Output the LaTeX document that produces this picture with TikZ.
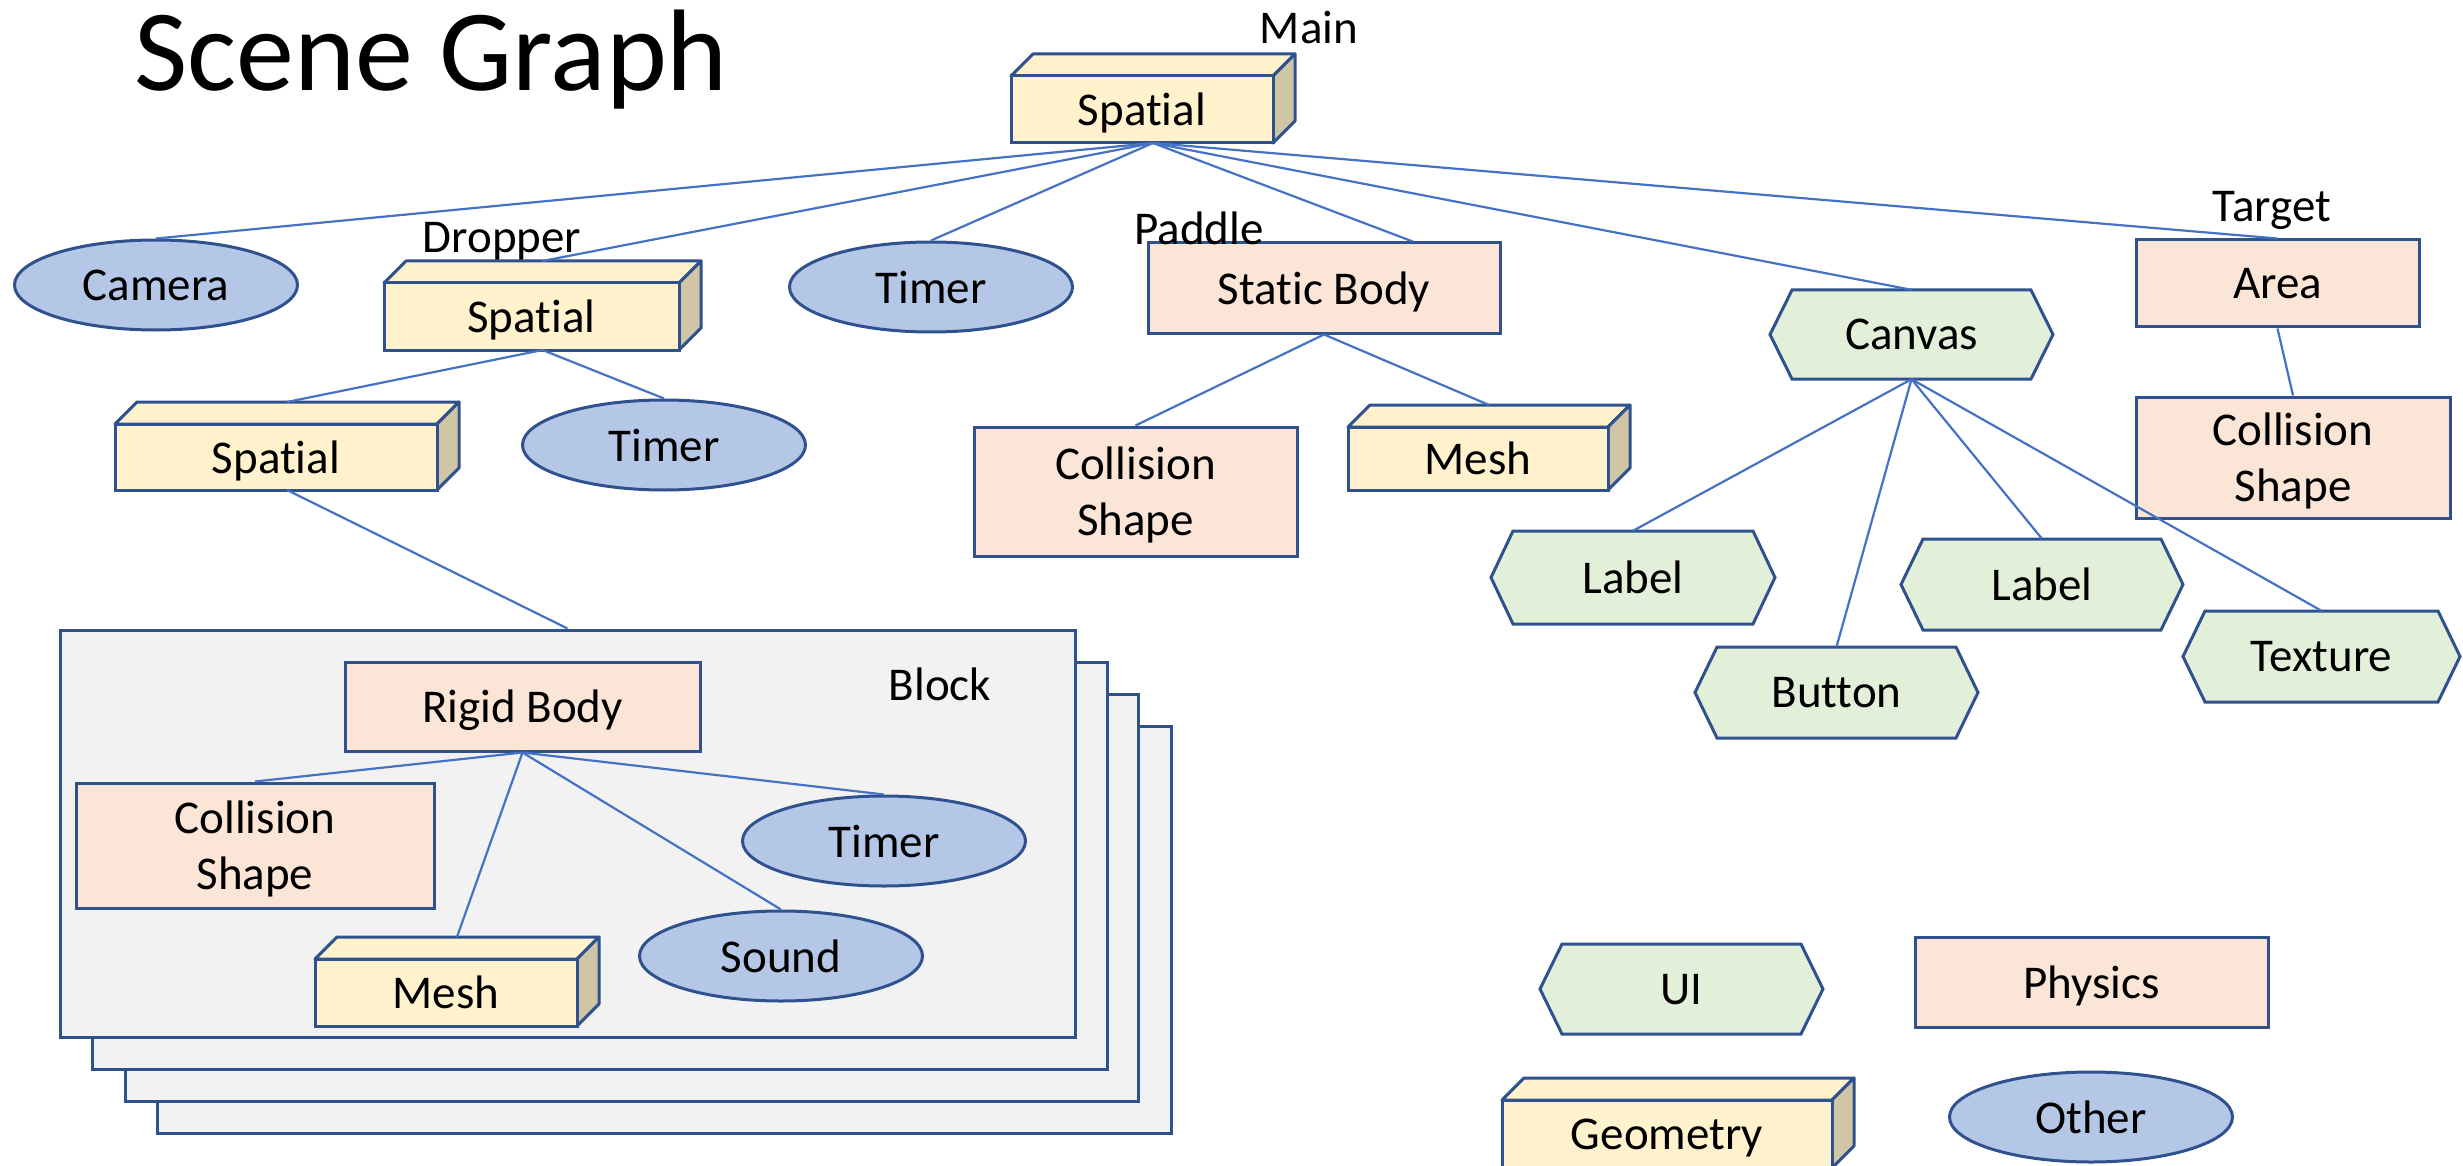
\documentclass[tikz,border=0pt]{standalone}
\usepackage{fontspec}
\setmainfont{Carlito}[Ligatures={NoCommon,NoContextual}]
\usetikzlibrary{shapes.geometric,calc}
\definecolor{edgeblue}{HTML}{2F528F}
\definecolor{linkblue}{HTML}{4472C4}
\definecolor{geofill}{HTML}{FFF2CC}
\definecolor{geoside}{HTML}{D0C5A5}
\definecolor{physfill}{HTML}{FBE5D6}
\definecolor{uifill}{HTML}{E2F0D9}
\definecolor{otherfill}{HTML}{B4C7E7}
\definecolor{blockfill}{HTML}{F2F2F2}
\tikzset{
  every node/.style={font=\fontsize{47}{56}\selectfont, text=black, text depth=0pt},
  outline/.style={draw=edgeblue, line width=3pt},
  link/.style={draw=linkblue, line width=2.2pt},
  phys/.style={outline, fill=physfill, rectangle, inner sep=0pt, align=center},
  other/.style={outline, fill=otherfill, ellipse, inner sep=0pt, minimum width=283pt, minimum height=90pt},
  tag/.style={inner sep=0pt},
  blocksheet/.style={outline, fill=blockfill},
}
% rectangle (physics) node from corners
\newcommand\physbox[6]{%
  \node[phys, minimum width={#4-#2}, minimum height={#5-#3}] (#1) at ({(#2+#4)/2},{(#3+#5)/2}) {#6};}
% hexagon (UI) node from corners
\newcommand\hexbox[6]{%
  \filldraw[outline, fill=uifill] (#2,{(#3+#5)/2}) -- ({#2+22},#3) -- ({#4-22},#3) -- (#4,{(#3+#5)/2}) -- ({#4-22},#5) -- ({#2+22},#5) -- cycle;
  \node[tag, minimum width={#4-#2}, minimum height={#5-#3}] (#1) at ({(#2+#4)/2},{(#3+#5)/2}) {#6};}
% 3D box (geometry) node from front-face corners
\newcommand\geobox[6]{%
  \filldraw[outline, fill=geofill, line join=round] (#2,#3) -- ({#2+22},{#3-22}) -- ({#4+22},{#3-22}) -- (#4,#3) -- cycle;
  \filldraw[outline, fill=geoside, line join=round] (#4,#3) -- ({#4+22},{#3-22}) -- ({#4+22},{#5-22}) -- (#4,#5) -- cycle;
  \node[outline, fill=geofill, rectangle, inner sep=0pt, minimum width={#4-#2}, minimum height={#5-#3}] (#1) at ({(#2+#4)/2},{(#3+#5)/2}) {#6};
  \coordinate (#1-top) at ({(#2+#4)/2+11},{#3-22});
  \coordinate (#1-bot) at ({(#2+#4)/2+11},#5);}
\begin{document}
\begin{tikzpicture}[x=1pt,y=-1pt]
\useasboundingbox (0,0) rectangle (2463,1166);

% title
\node[tag, anchor=base west, font=\fontsize{116}{134}\selectfont] (title) at (134,91) {Scene Graph};

% block stack
\draw[blocksheet] (157,726) rectangle (1171,1133);
\draw[blocksheet] (125,694) rectangle (1138,1101);
\draw[blocksheet] (92,662) rectangle (1107,1069);
\node[blocksheet, rectangle, minimum width=1015pt, minimum height=407pt, inner sep=0pt] (block) at (567.5,833.5) {};
\node[tag] (blocklbl) at (940,684) {Block};

% main
\geobox{main}{1011}{76}{1273}{143}{Spatial}
\node[tag] (mainlbl) at (1309,27) {Main};

% first level
\node[other] (camera) at (156,285) {Camera};
\geobox{dropper}{384}{283}{679}{350}{Spatial}
\node[tag] (dropperlbl) at (502,237) {Dropper};
\node[other] (timerA) at (931,287) {Timer};
\physbox{static}{1148}{243}{1500}{333}{Static Body}
\node[tag] (paddlelbl) at (1199,228) {Paddle};
\hexbox{canvas}{1770}{290}{2053}{379}{Canvas}
\physbox{area}{2136}{240}{2419}{327}{Area}
\node[tag] (targetlbl) at (2272,206) {Target};

% second level
\geobox{spatialB}{115}{424}{437}{490}{Spatial}
\node[other] (timerB) at (664,445) {Timer};
\physbox{csA}{974}{427}{1297}{556}{Collision\\Shape}
\geobox{meshA}{1348}{427}{1608}{490}{Mesh}
\hexbox{labelA}{1491}{531}{1775}{624}{Label}
\hexbox{button}{1695}{647}{1978}{738}{Button}
\hexbox{labelB}{1901}{539}{2183}{630}{Label}
\hexbox{texture}{2183}{611}{2460}{702}{Texture}
\physbox{csB}{2136}{397}{2450}{518}{Collision\\Shape}

% inside block
\physbox{rigid}{345}{662}{700}{751}{Rigid Body}
\physbox{csC}{76}{783}{434}{908}{Collision\\Shape}
\node[other] (timerC) at (884,841) {Timer};
\node[other] (sound) at (781,956) {Sound};
\geobox{meshB}{315}{959}{577}{1026}{Mesh}

% legend
\hexbox{legui}{1540}{944}{1823}{1034}{UI}
\physbox{legphys}{1915}{937}{2268}{1027}{Physics}
\geobox{leggeo}{1502}{1100}{1832}{1168}{Geometry}
\node[other] (legother) at (2091,1117) {Other};

% connectors
\draw[link] (main-bot) -- (camera.north);
\draw[link] (main-bot) -- (dropper-top);
\draw[link] (main-bot) -- (timerA.north);
\draw[link] (main-bot) -- ($(static.north west)!0.75!(static.north east)$);
\draw[link] (main-bot) -- (canvas.north);
\draw[link] (main-bot) -- (area.north);
\draw[link] (dropper-bot) -- (spatialB-top);
\draw[link] (dropper-bot) -- (timerB.north);
\draw[link] (spatialB-bot) -- (block.north);
\draw[link] (static.south) -- (csA.north);
\draw[link] (static.south) -- (meshA-top);
\draw[link] (canvas.south) -- (labelA.north);
\draw[link] (canvas.south) -- (button.north);
\draw[link] (canvas.south) -- (labelB.north);
\draw[link] (canvas.south) -- (texture.north);
\draw[link] (area.south) -- (csB.north);
\draw[link] (rigid.south) -- (csC.north);
\draw[link] (rigid.south) -- (timerC.north);
\draw[link] (rigid.south) -- (sound.north);
\draw[link] (rigid.south) -- (meshB-top);
\end{tikzpicture}
\end{document}
